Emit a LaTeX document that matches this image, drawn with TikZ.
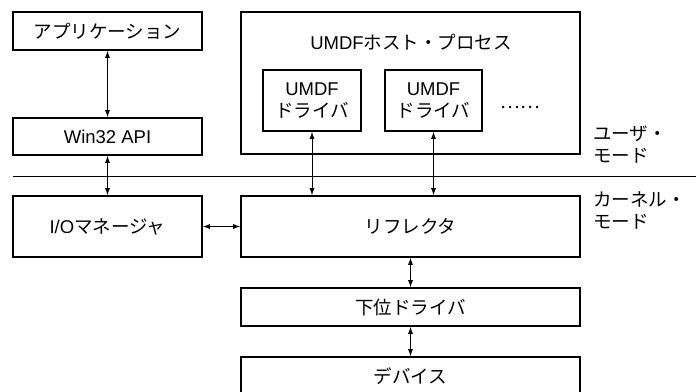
\documentclass[tikz,border=0pt]{standalone}
\usepackage{fontspec}
\setmainfont{Liberation Sans}
\newfontfamily\jp{Noto Sans CJK JP}
\usetikzlibrary{arrows.meta}
\begin{document}
\begin{tikzpicture}[x=1pt,y=-1pt,
  box/.style={draw, line width=1.6pt, inner sep=0pt, font=\fontsize{18.5}{22}\selectfont},
  one/.style={text height=14pt, text depth=0pt},
  conn/.style={line width=0.8pt, {Latex[length=7pt,width=5pt]}-{Latex[length=7pt,width=5pt]}},
  lbl/.style={font=\fontsize{18.5}{22}\selectfont\jp, align=left, inner sep=0pt, anchor=west},
  sep/.style={line width=0.8pt}]
\useasboundingbox (0,0) rectangle (696,391);
\begin{scope}
\clip (0,0) rectangle (696,391);
% left column
\node[box, one, minimum width=189pt, minimum height=38pt] (app) at (107.5,31) {\jp アプリケーション};
\node[box, one, minimum width=189pt, minimum height=37pt] (win) at (107.5,136.5) {Win32 API};
\node[box, one, minimum width=189pt, minimum height=61pt] (io) at (107.5,226.5) {I/O{\jp マネージャ}};
% UMDF host process
\node[box, minimum width=339pt, minimum height=142pt] (host) at (410.5,83) {};
\node[font=\fontsize{18.5}{22}\selectfont, one, inner sep=0pt] (hosttitle) at (411,42) {UMDF{\jp ホスト・プロセス}};
\node[box, align=center, minimum width=98pt, minimum height=61pt] (drv1) at (312,100.5) {UMDF\\{\jp ドライバ}};
\node[box, align=center, minimum width=97pt, minimum height=61pt] (drv2) at (433.5,100.5) {UMDF\\{\jp ドライバ}};
\node[font=\fontsize{18.5}{22}\selectfont\jp, inner sep=0pt] (dots) at (520,107) {……};
% kernel side
\node[box, one, minimum width=339pt, minimum height=61pt] (refl) at (410.5,226.5) {\jp リフレクタ};
\node[box, one, minimum width=339pt, minimum height=38pt] (low) at (410.5,307) {\jp 下位ドライバ};
\node[box, one, minimum width=339pt, minimum height=38pt] (dev) at (410.5,376) {\jp デバイス};
% mode labels
\node[lbl] (umode) at (593,145) {ユーザ・\\モード};
\node[lbl] (kmode) at (593,210) {カーネル・\\モード};
% separator
\coordinate (sepL) at (13,176);
\coordinate (sepR) at (696,176);
\draw[sep] (sepL) -- (sepR);
% connectors
\draw[conn] (app.south) -- (win.north);
\draw[conn] (win.south) -- (io.north);
\draw[conn] (io.east) -- (refl.west);
\draw[conn] (drv1.south) -- (drv1.south |- refl.north);
\draw[conn] (drv2.south) -- (drv2.south |- refl.north);
\draw[conn] (refl.south) -- (low.north);
\draw[conn] (low.south) -- (dev.north);
\end{scope}
\end{tikzpicture}
\end{document}
